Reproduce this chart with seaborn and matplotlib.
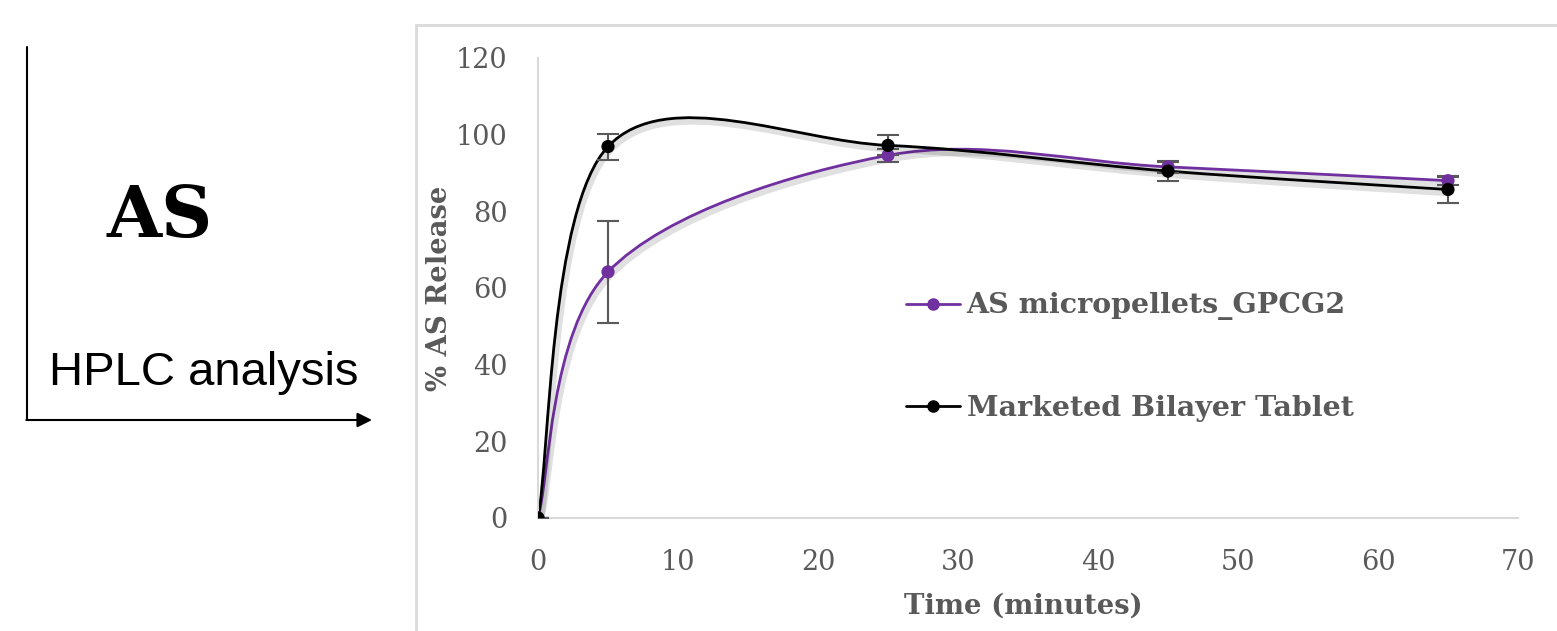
import numpy as np
import pandas as pd
import seaborn as sns
from matplotlib import pyplot as plt
from matplotlib.path import Path
from matplotlib.patches import PathPatch, Rectangle
from matplotlib.lines import Line2D
import matplotlib.patheffects as pe

# dissolution data
time_min = [0, 5, 25, 45, 65]
pellets = [0, 64.2, 94.6, 91.6, 88.0]
pellets_err = [0, 13.2, 1.7, 1.5, 1.0]
tablet = [0, 96.9, 97.2, 90.5, 85.7]
tablet_err = [0, 3.4, 2.6, 2.5, 3.4]
series_names = ['AS micropellets_GPCG2', 'Marketed Bilayer Tablet']
series_colors = ['#7030A0', '#000000']

GRAY = '#595959'
SERIF = ['DejaVu Serif']

df = pd.concat([
    pd.DataFrame({'time': time_min, 'release': pellets, 'err': pellets_err, 'series': series_names[0]}),
    pd.DataFrame({'time': time_min, 'release': tablet, 'err': tablet_err, 'series': series_names[1]}),
])


def smooth_path(x, y):
    # excel-style smoothed line: cubic bezier segments, catmull-rom control points
    pts = np.column_stack([x, y]).astype(float)
    n = len(pts)
    verts = [pts[0]]
    codes = [Path.MOVETO]
    for i in range(n - 1):
        p0 = pts[max(i - 1, 0)]
        p1 = pts[i]
        p2 = pts[i + 1]
        p3 = pts[min(i + 2, n - 1)]
        c1 = p1 + (p2 - p0) / 6
        c2 = p2 - (p3 - p1) / 6
        verts += [c1, c2, p2]
        codes += [Path.CURVE4] * 3
    return Path(verts, codes)


sns.set_theme(style='white')
plt.rcParams['font.family'] = SERIF

fig = plt.figure(figsize=(15.57, 6.31), dpi=100)

# frame around the chart panel
fig.add_artist(Rectangle((416 / 1557, -0.05), 1.2, 1 - 25 / 631 + 0.05, transform=fig.transFigure,
                         fill=False, edgecolor='#d9d9d9', linewidth=2))

ax = fig.add_axes([538 / 1557, 1 - 518 / 631, 980 / 1557, 460 / 631])

for name, color in zip(series_names, series_colors):
    d = df[df['series'] == name]
    patch = PathPatch(smooth_path(d['time'], d['release']), facecolor='none', edgecolor=color,
                      linewidth=2, zorder=2)
    patch.set_path_effects([pe.SimpleLineShadow(offset=(1.5, -2.5), shadow_color='black', alpha=0.12,
                                                linewidth=5), pe.Normal()])
    ax.add_patch(patch)
    ax.errorbar(d['time'], d['release'], yerr=d['err'], fmt='none', ecolor=GRAY, elinewidth=1.5,
                capsize=8, capthick=1.5, zorder=3)

sns.scatterplot(data=df, x='time', y='release', hue='series', palette=series_colors, s=90,
                edgecolor='none', legend=False, zorder=4, ax=ax)

ax.set_xlim(0, 70)
ax.set_ylim(0, 120)
ax.set_xticks(range(0, 71, 10))
ax.set_yticks(range(0, 121, 20))
ax.tick_params(axis='both', length=0, labelsize=19.5, labelcolor=GRAY)
ax.tick_params(axis='y', pad=22)
ax.tick_params(axis='x', pad=22)
for side in ['top', 'right']:
    ax.spines[side].set_visible(False)
for side in ['left', 'bottom']:
    ax.spines[side].set_color('#d9d9d9')
    ax.spines[side].set_linewidth(1.5)
ax.grid(False)
ax.set_xlabel('Time (minutes)', fontsize=19.8, fontweight='bold', color=GRAY)
ax.set_ylabel('% AS Release', fontsize=19.8, fontweight='bold', color=GRAY)
ax.xaxis.set_label_coords(0.495, -0.163)
ax.yaxis.set_label_coords(-0.087, 0.5)

handles = [Line2D([0], [0], color=c, linewidth=2, marker='o', markersize=8) for c in series_colors]
leg = ax.legend(handles, series_names, loc='center left', bbox_to_anchor=(0.375, 0.35), frameon=False,
                prop={'size': 20.5, 'weight': 'bold', 'family': SERIF}, labelspacing=2.6,
                handlelength=1.9, handletextpad=0.25, borderpad=0, borderaxespad=0)
for t in leg.get_texts():
    t.set_color(GRAY)

# left side annotation
fig.text(160 / 1557, 1 - 218 / 631, 'AS', fontsize=51, fontweight='black', family=SERIF,
         ha='center', va='center', color='black')
fig.text(204 / 1557, 1 - 373 / 631, 'HPLC analysis', fontsize=34, family=['Liberation Sans'],
         ha='center', va='center', color='black')
fig.add_artist(Line2D([27 / 1557, 27 / 1557], [1 - 47 / 631, 1 - 420 / 631], transform=fig.transFigure,
                      color='black', linewidth=1.5))
ax.annotate('', xy=(372 / 1557, 1 - 420 / 631), xytext=(26.3 / 1557, 1 - 420 / 631),
            xycoords='figure fraction', textcoords='figure fraction',
            arrowprops=dict(arrowstyle='-|>', color='black', lw=1.5, mutation_scale=22, shrinkA=0, shrinkB=0))

fig.savefig('out.png', dpi=100)
